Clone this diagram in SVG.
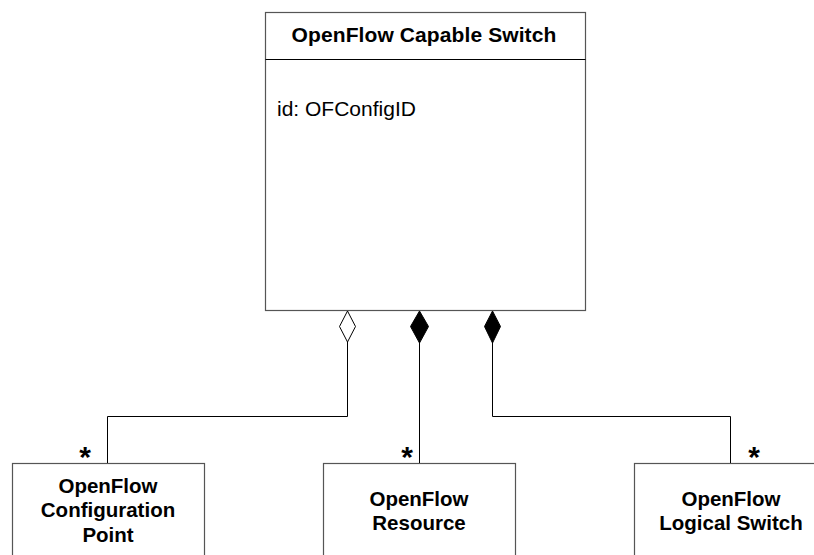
<svg xmlns="http://www.w3.org/2000/svg" width="814" height="555" viewBox="0 0 814 555">
<style>
.box{fill:#fff;stroke:#555;stroke-width:1.2}
.div{stroke:#000;stroke-width:1}
.conn{fill:none;stroke:#000;stroke-width:1}
.t{font-family:"Liberation Sans",Arial,sans-serif;font-weight:bold;font-size:20.5px;fill:#000;text-anchor:middle}
.attr{font-family:"Liberation Sans",Arial,sans-serif;font-size:21px;fill:#000}
.star{font-family:"Liberation Sans",Arial,sans-serif;font-weight:bold;font-size:30px;fill:#000;text-anchor:middle}
</style>
<rect width="814" height="555" fill="#fff"/>
<g id="switch">
<rect class="box" x="265.5" y="12.5" width="320" height="298"/>
<line class="div" x1="265.5" y1="59.5" x2="585.5" y2="59.5"/>
<text class="t" x="424" y="42" style="font-size:21px;letter-spacing:0.1px">OpenFlow Capable Switch</text>
<text class="attr" x="277" y="116">id: OFConfigID</text>
</g>
<g id="configpoint">
<rect class="box" x="12.5" y="463.5" width="192" height="100"/>
<text class="t" x="108" y="493">OpenFlow</text>
<text class="t" x="108" y="517">Configuration</text>
<text class="t" x="108" y="542">Point</text>
</g>
<g id="resource">
<rect class="box" x="323.5" y="463.5" width="192" height="100"/>
<text class="t" x="419" y="506">OpenFlow</text>
<text class="t" x="419" y="530">Resource</text>
</g>
<g id="logicalswitch">
<rect class="box" x="634.5" y="463.5" width="192" height="100"/>
<text class="t" x="731" y="506">OpenFlow</text>
<text class="t" x="731" y="530">Logical Switch</text>
</g>
<g id="connectors">
<polyline class="conn" points="347.5,342 347.5,416.5 107.5,416.5 107.5,463"/>
<polygon points="347.5,311 339.5,326.5 347.5,342 355.5,326.5" fill="#fff" stroke="#000" stroke-width="1"/>
<line class="conn" x1="419.5" y1="342" x2="419.5" y2="463"/>
<polygon points="419.5,311 410.5,326.5 419.5,343 428.5,326.5" fill="#000" stroke="#000" stroke-width="1"/>
<polyline class="conn" points="492.5,342 492.5,416.5 730.5,416.5 730.5,463"/>
<polygon points="492.5,311 484.5,326.5 492.5,343 500.5,326.5" fill="#000" stroke="#000" stroke-width="1"/>
<text class="star" x="85" y="467">*</text>
<text class="star" x="407" y="467">*</text>
<text class="star" x="754" y="467">*</text>
</g>
</svg>
